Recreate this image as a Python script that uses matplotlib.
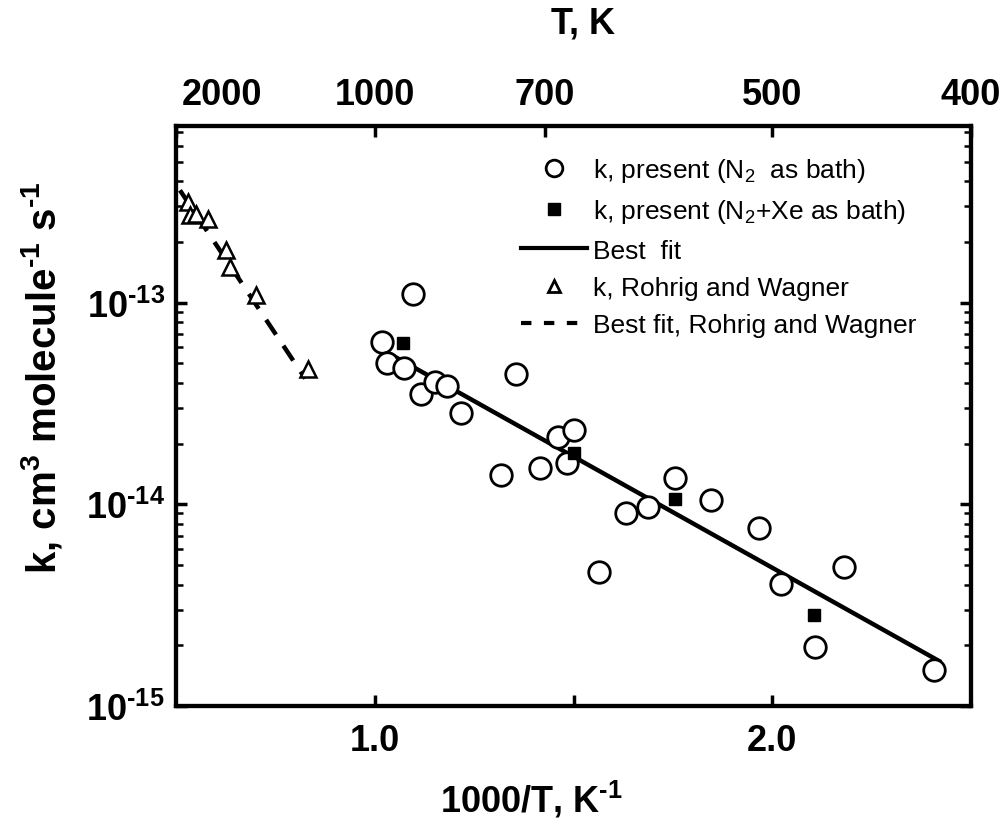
import numpy as np
import matplotlib
matplotlib.use("Agg")
import matplotlib.pyplot as plt
import matplotlib.transforms as mtransforms
from matplotlib.lines import Line2D
from matplotlib.ticker import LogLocator, NullFormatter

plt.rcParams['font.family'] = ['Liberation Sans', 'DejaVu Sans']

# k, present (N2 as bath)
n2_x = [1.018, 1.031, 1.073, 1.096, 1.117, 1.151, 1.182, 1.218, 1.318, 1.356,
        1.415, 1.462, 1.483, 1.500, 1.565, 1.631, 1.687, 1.756, 1.846, 1.966,
        2.022, 2.107, 2.181, 2.407]
n2_k = [6.35e-14, 5.0e-14, 4.75e-14, 1.1e-13, 3.53e-14, 4.05e-14, 3.85e-14, 2.85e-14,
        1.39e-14, 4.4e-14, 1.52e-14, 2.15e-14, 1.61e-14, 2.33e-14, 4.64e-15, 9.0e-15,
        9.7e-15, 1.35e-14, 1.05e-14, 7.64e-15, 4.02e-15, 1.96e-15, 4.91e-15, 1.5e-15]

# k, present (N2+Xe as bath)
xe_x = [1.071, 1.500, 1.756, 2.105]
xe_k = [6.3e-14, 1.79e-14, 1.06e-14, 2.81e-15]

# best fit
fit_x = [1.018, 2.42]
fit_k = [5.85e-14, 1.67e-15]

# Rohrig and Wagner
rw_x = [0.531, 0.535, 0.550, 0.581, 0.627, 0.636, 0.701, 0.832]
rw_k = [3.15e-13, 2.72e-13, 2.74e-13, 2.6e-13, 1.82e-13, 1.5e-13, 1.09e-13, 4.66e-14]

rw_fit_x = [0.51, 0.825]
rw_fit_k = [3.6e-13, 4.2e-14]

bottom_ticks = [1.0, 1.5, 2.0]
bottom_labels = ['1.0', '', '2.0']
top_T = [2000, 1000, 700, 500, 400]

HY = '\u2010'  # short hyphen for exponents, like the original

fig = plt.figure(figsize=(10.03, 8.29), dpi=100)
ax = fig.add_axes([176 / 1003, 1 - 707 / 829, 795 / 1003, 580 / 829])

ax.plot(n2_x, n2_k, 'o', ms=15.5, mfc='white', mec='black', mew=2.0, zorder=3)
ax.plot(xe_x, xe_k, 's', ms=8.5, mfc='black', mec='black', zorder=4)
ax.plot(fit_x, fit_k, '-', color='black', lw=3.2, zorder=2)
ax.plot(rw_x, rw_k, '^', ms=11.5, mfc='white', mec='black', mew=1.8, zorder=3)
ax.plot(rw_fit_x, rw_fit_k, color='black', lw=3.2, dashes=(4.0, 3.0), zorder=2)

ax.set_yscale('log')
ax.set_xlim(0.5, 2.5)
ax.set_ylim(1e-15, 7.5e-13)

ax.set_xticks(bottom_ticks, bottom_labels)
ax.set_yticks([1e-15, 1e-14, 1e-13],
              [r'$\mathregular{10^{%s15}}$' % HY, r'$\mathregular{10^{%s14}}$' % HY,
               r'$\mathregular{10^{%s13}}$' % HY])
ax.yaxis.set_minor_locator(LogLocator(base=10, subs=np.arange(2, 10)))
ax.yaxis.set_minor_formatter(NullFormatter())

for s in ax.spines.values():
    s.set_linewidth(3.0)

ax.tick_params(axis='both', which='major', direction='in', length=8, width=2.5,
               labelsize=26)
ax.tick_params(axis='x', which='major', pad=12)
ax.tick_params(axis='y', which='major', right=True, pad=8)
ax.tick_params(axis='y', which='minor', direction='in', length=5, width=1.8,
               left=True, right=True)
ax.tick_params(axis='x', which='both', top=False)
for lab in ax.get_xticklabels() + ax.get_yticklabels():
    lab.set_fontweight('bold')

# top axis: temperature
ax2 = ax.twiny()
ax2.set_xlim(ax.get_xlim())
ax2.set_xticks([1000.0 / t for t in top_T], [str(t) for t in top_T])
ax2.tick_params(axis='x', direction='in', length=8, width=2.5, labelsize=26, pad=10)
for lab in ax2.get_xticklabels():
    lab.set_fontweight('bold')
first = ax2.get_xticklabels()[0]
first.set_transform(first.get_transform() +
                    mtransforms.ScaledTranslation(46 / 100, 0, fig.dpi_scale_trans))
for s in ax2.spines.values():
    s.set_linewidth(3.0)

fig.text(583 / 1003, 1 - 24 / 829, 'T, K', ha='center', va='center',
         fontsize=26, fontweight='bold')
fig.text(531 / 1003, 1 - 800 / 829, r'1000/T, K$\mathregular{^{%s1}}$' % HY, ha='center',
         va='center', fontsize=26, fontweight='bold')
fig.text(42 / 1003, 1 - 378 / 829,
         r'k, cm$\mathregular{^3}$ molecule$\mathregular{^{%s1}}$ s$\mathregular{^{%s1}}$'
         % (HY, HY),
         rotation=90, ha='center', va='center', fontsize=29, fontweight='bold')

handles = [
    Line2D([], [], ls='none', marker='o', ms=12, mfc='white', mec='black', mew=2.0),
    Line2D([], [], ls='none', marker='s', ms=8, mfc='black', mec='black'),
    Line2D([], [], color='black', lw=3.0),
    Line2D([], [], ls='none', marker='^', ms=8, mfc='white', mec='black', mew=2.0),
    Line2D([], [], color='black', lw=3.0, dashes=(2.5, 3.0)),
]
labels = [
    r'k, present (N$\mathregular{_2}$  as bath)',
    r'k, present (N$\mathregular{_2}$+Xe as bath)',
    'Best  fit',
    'k, Rohrig and Wagner',
    'Best fit, Rohrig and Wagner',
]
ax.legend(handles, labels, loc='upper right', bbox_to_anchor=(0.945, 0.966),
          frameon=False, fontsize=19, handlelength=2.5, handletextpad=0.25,
          labelspacing=0.5, borderaxespad=0)

fig.savefig('out.png', dpi=100)
